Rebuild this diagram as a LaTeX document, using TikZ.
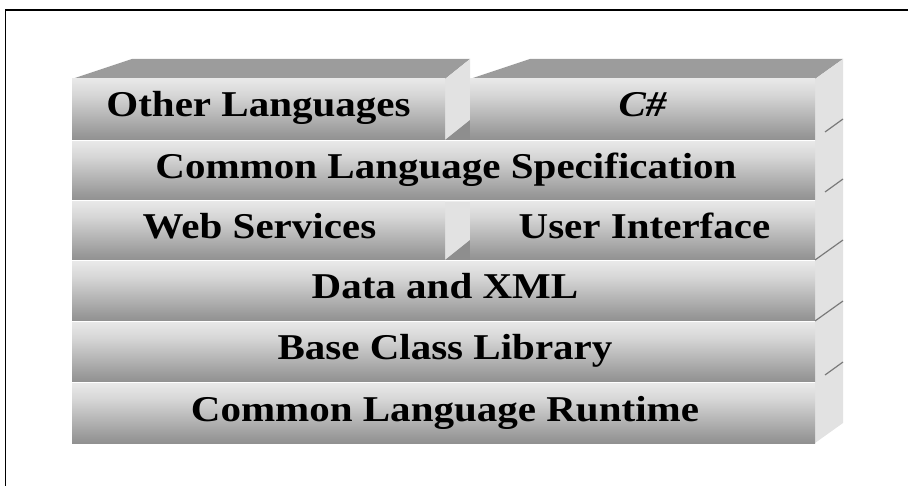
\documentclass[tikz,border=0pt]{standalone}
\usepackage{fontspec}
\setmainfont{Liberation Serif}[FakeStretch=1.13]
\definecolor{topc}{HTML}{9C9C9C}
\definecolor{sidec}{HTML}{E2E2E2}
\definecolor{shadec}{HTML}{8E8E8E}
\definecolor{dashc}{HTML}{7A7A7A}
\definecolor{gA}{HTML}{6A6A6A}
\definecolor{gB}{HTML}{999999}
\definecolor{gC}{HTML}{D6D6D6}
\definecolor{gD}{HTML}{F6F6F6}
\definecolor{gE}{HTML}{F2F2F2}
\pgfdeclareverticalshading{barshade}{100bp}{color(0bp)=(gA); color(30bp)=(gB); color(62bp)=(gC); color(85bp)=(gD); color(100bp)=(gE)}
\begin{document}
\begin{tikzpicture}[x=1pt,y=-1pt,
  lbl/.style={anchor=base, font=\fontsize{36.3}{40}\selectfont\bfseries, inner sep=0pt},
  face/.style={shading=barshade},
  tick/.style={draw=dashc, line width=1.2pt}]
\useasboundingbox (0,0) rectangle (908,486);
\draw[line width=1.5pt] (5.5,486) -- (5.5,10) -- (908,10);
% top faces
\fill[topc] (72,79) -- (132,59) -- (470,59) -- (445,79) -- cycle;
\fill[topc] (470,79) -- (530,59) -- (843,59) -- (815,79) -- cycle;
% right side face
\fill[sidec] (815,79) -- (843,59) -- (843,423) -- (815,443) -- cycle;
% inner side faces
\fill[sidec] (445,79) -- (470,59) -- (470,120) -- (445,140) -- cycle;
\fill[shadec] (445,140) -- (470,120) -- (470,140) -- cycle;
\fill[sidec] (445,201.5) -- (470,201.5) -- (470,240) -- (445,260) -- cycle;
\fill[shadec] (445,260) -- (470,240) -- (470,260) -- cycle;
% front faces
\shade[face] (72,79) rectangle (445,140);
\shade[face] (470,79) rectangle (815,140);
\shade[face] (72,141.5) rectangle (815,200);
\shade[face] (72,201.5) rectangle (445,260);
\shade[face] (470,201.5) rectangle (815,260);
\shade[face] (72,262) rectangle (815,321);
\shade[face] (72,322.5) rectangle (815,382);
\shade[face] (72,384) rectangle (815,443);
% ticks on right side
\draw[tick] (825,132) -- (843,119);
\draw[tick] (825,192) -- (843,179);
\draw[tick] (815,260) -- (843,240);
\draw[tick] (815,321) -- (843,301);
\draw[tick] (825,375) -- (843,362);
% labels
\node[lbl] (ol) at (258.5,117) {Other Languages};
\node[lbl] (cs) at (642.5,117) {\itshape C\#};
\node[lbl] (cls) at (446,178.5) {Common Language Specification};
\node[lbl] (ws) at (259.5,238.5) {Web Services};
\node[lbl] (ui) at (644.5,238.5) {User Interface};
\node[lbl] (dx) at (445,299) {Data and XML};
\node[lbl] (bcl) at (445,359.5) {Base Class Library};
\node[lbl] (clr) at (445,421) {Common Language Runtime};
\end{tikzpicture}
\end{document}
